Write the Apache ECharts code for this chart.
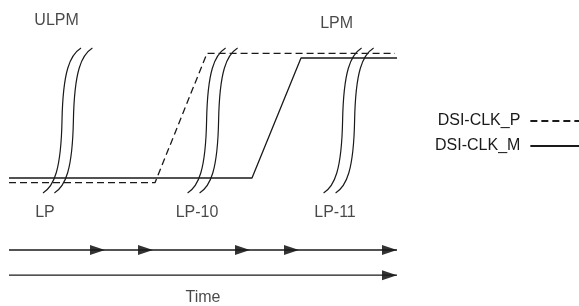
<!DOCTYPE html>
<html>
<head>
<meta charset="utf-8">
<script src="https://cdn.jsdelivr.net/npm/echarts@6/dist/echarts.min.js"></script>
<style>
  html, body { margin: 0; padding: 0; background: #fff; }
  #chart { width: 579px; height: 306px; }
</style>
</head>
<body>
<div id="chart"></div>
<script>
// signal levels: 0 = low, 1 = high (P drawn a hair outside M so both stay visible)
var clkP = [[0, -0.039], [36.5, -0.039], [49.5, 1.039], [96.5, 1.039]];
var clkM = [[0, 0], [60.75, 0], [73, 1], [97, 1]];

// time where each break mark crosses the signals
var breakTimes = [13.25, 16.1, 49.4, 52.4, 83.4, 86.4];
var breakLow = -0.125, breakHigh = 1.083;

// state names over / under the signals
var stateNames = ['ULPM', 'LPM'];
var stateTimes = [11.9, 81.9];
var stateLevels = [1.308, 1.29];
var phaseNames = ['LP', 'LP-10', 'LP-11'];
var phaseTimes = [9, 47, 81.5];
var phaseLevel = -0.292;

// time arrows
var stepTips = [24, 36, 60.25, 72.5, 97];
var stepLevel = -0.6;
var totalTips = [97];
var totalLevel = -0.81;
var timeLabel = [[48.5, -1.0]];

var ink = '#1a1a1a';
var font = 'Liberation Sans, Arial, sans-serif';

function breakMark(params, api) {
	var bot = api.coord([api.value(0), breakLow]);
	var top = api.coord([api.value(0), breakHigh]);
	var cx = bot[0], cy = (bot[1] + top[1]) / 2;
	var s = (bot[1] - top[1]) / 146;
	function p(x, y) { return (cx + x) + ' ' + (cy + y * s); }
	var d = 'M' + p(-19, 73) + ' C' + p(-8, 66) + ' ' + p(-1, 50) + ' ' + p(0, 0)
		+ ' C' + p(1, -50) + ' ' + p(8, -66) + ' ' + p(19, -73);
	return {
		type: 'path',
		shape: { pathData: d },
		style: { stroke: ink, fill: null, lineWidth: 1.2 }
	};
}

function arrowLine(tips, level) {
	return [[0, level], [tips[tips.length - 1], level]];
}
function arrowHeads(tips, level) {
	return tips.map(function (t) { return [t, level]; });
}

var chart = echarts.init(document.getElementById('chart'));
var option = {
	animation: false,
	grid: { left: 9, top: 10, width: 388, bottom: 8 },
	xAxis: { type: 'value', min: 0, max: 97, show: false },
	yAxis: { type: 'value', min: -1, max: 1.4, show: false },
	legend: {
		data: ['DSI-CLK_P', 'DSI-CLK_M'],
		orient: 'vertical',
		align: 'right',
		left: 430,
		top: 108,
		itemWidth: 49,
		itemHeight: 10,
		itemGap: 9,
		itemStyle: { opacity: 0 },
		textStyle: { fontFamily: font, fontSize: 16, color: ink, padding: [0, 5, 0, 0] }
	},
	series: [
		{
			name: 'DSI-CLK_P', type: 'line', data: clkP, symbol: 'none',
			lineStyle: { color: ink, width: 1.3, type: [7, 4] }, itemStyle: { color: ink }
		},
		{
			name: 'DSI-CLK_M', type: 'line', data: clkM, symbol: 'none',
			lineStyle: { color: ink, width: 1.3 }, itemStyle: { color: ink }
		},
		{
			type: 'custom', renderItem: breakMark,
			data: breakTimes.map(function (t) { return [t]; }), clip: false, z: 3
		},
		{
			type: 'line', data: arrowLine(stepTips, stepLevel), symbol: 'none',
			lineStyle: { color: ink, width: 1.3 }
		},
		{
			type: 'scatter', data: arrowHeads(stepTips, stepLevel),
			symbol: 'triangle', symbolSize: [10, 15], symbolRotate: -90, symbolOffset: [-7.5, 0],
			itemStyle: { color: '#000' }, clip: false
		},
		{
			type: 'line', data: arrowLine(totalTips, totalLevel), symbol: 'none',
			lineStyle: { color: ink, width: 1.3 }
		},
		{
			type: 'scatter', data: arrowHeads(totalTips, totalLevel),
			symbol: 'triangle', symbolSize: [10, 15], symbolRotate: -90, symbolOffset: [-7.5, 0],
			itemStyle: { color: '#000' }, clip: false
		},
		{
			type: 'scatter', symbolSize: 0, clip: false,
			data: stateNames.map(function (n, i) { return { name: n, value: [stateTimes[i], stateLevels[i]] }; })
				.concat(phaseNames.map(function (n, i) { return { name: n, value: [phaseTimes[i], phaseLevel] }; }))
				.concat([{ name: 'Time', value: timeLabel[0] }]),
			label: {
				show: true, position: 'inside', formatter: '{b}',
				fontFamily: font, fontSize: 16, color: ink
			}
		}
	]
};
chart.setOption(option);
</script>
</body>
</html>
